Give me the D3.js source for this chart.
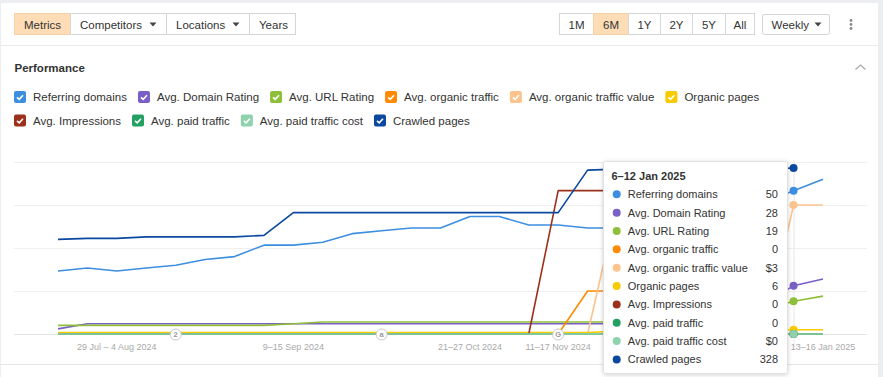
<!DOCTYPE html>
<html>
<head>
<meta charset="utf-8">
<script src="https://cdn.jsdelivr.net/npm/d3@7"></script>
<style>
  body { margin: 0; background: #eceef1; overflow: hidden; }
  svg { display: block; font-family: "Liberation Sans", Arial, sans-serif; }
</style>
</head>
<body>
<div id="chart-area"></div>
<script>
var width = 883;
var height = 377;

// weeks on the x axis
var weeks = [
  "15–21 Jul 2024", "22–28 Jul 2024", "29 Jul – 4 Aug 2024", "5–11 Aug 2024",
  "12–18 Aug 2024", "19–25 Aug 2024", "26 Aug – 1 Sep 2024", "2–8 Sep 2024",
  "9–15 Sep 2024", "16–22 Sep 2024", "23–29 Sep 2024", "30 Sep – 6 Oct 2024",
  "7–13 Oct 2024", "14–20 Oct 2024", "21–27 Oct 2024", "28 Oct – 3 Nov 2024",
  "4–10 Nov 2024", "11–17 Nov 2024", "18–24 Nov 2024", "25 Nov – 1 Dec 2024",
  "2–8 Dec 2024", "9–15 Dec 2024", "16–22 Dec 2024", "23–29 Dec 2024",
  "30 Dec – 5 Jan 2025", "6–12 Jan 2025", "13–16 Jan 2025"
];
var tickWeeks = ["29 Jul – 4 Aug 2024", "9–15 Sep 2024", "21–27 Oct 2024", "11–17 Nov 2024", "13–16 Jan 2025"];
var noteWeeks = ["12–18 Aug 2024", "30 Sep – 6 Oct 2024", "11–17 Nov 2024"];
var noteLabels = ["2", "a", "G"];
var hoverWeek = "6–12 Jan 2025";

// series
var seriesNames = [
  "Referring domains", "Avg. Domain Rating", "Avg. URL Rating", "Avg. organic traffic",
  "Avg. organic traffic value", "Organic pages", "Avg. Impressions", "Avg. paid traffic",
  "Avg. paid traffic cost", "Crawled pages"
];
var seriesColors = ["#3d8ee0", "#7a5fc6", "#8fbf3a", "#ff8a00", "#fdc38d", "#f8cb00",
                    "#9c301a", "#25a063", "#8ed2ae", "#0b489f"];
var seriesMax = [60, 100, 100, 4, 4, 240, 6, 1, 1, 340];
var seriesPrefix = ["", "", "", "", "$", "", "", "", "$", ""];

var referringDomains = [22, 23, 22, 23, 24, 26, 27, 31, 31, 32, 35, 36, 37, 37, 41, 41, 38, 38, 37, 37, 37, 38, 40, 43, 46, 50, 54];
var domainRating     = [3, 6, 6, 6, 6, 6, 6, 6, 6, 6, 6, 6, 6, 6, 6, 6, 6, 6, 6, 6, 6, 7, 8, 12, 18, 28, 32];
var urlRating        = [5, 5, 5, 5, 5, 5, 5, 5, 6, 7, 7, 7, 7, 7, 7, 7, 7, 7, 7, 7, 8, 9, 11, 12, 14, 19, 22];
var organicTraffic   = [0, 0, 0, 0, 0, 0, 0, 0, 0, 0, 0, 0, 0, 0, 0, 0, 0, 0, 1, 1, 1, 0, 0, 0, 0, 0, 0];
var trafficValue     = [0, 0, 0, 0, 0, 0, 0, 0, 0, 0, 0, 0, 0, 0, 0, 0, 0, 0, 0, 3, 3, 2, 1, 0, 0, 3, 3];
var organicPages     = [2, 2, 2, 2, 2, 2, 2, 2, 2, 2, 2, 2, 2, 2, 2, 2, 2, 2, 2, 4, 5, 6, 6, 6, 6, 6, 6];
var impressions      = [0, 0, 0, 0, 0, 0, 0, 0, 0, 0, 0, 0, 0, 0, 0, 0, 0, 5, 5, 5, 5, 3, 0, 0, 0, 0, 0];
var paidTraffic      = [0, 0, 0, 0, 0, 0, 0, 0, 0, 0, 0, 0, 0, 0, 0, 0, 0, 0, 0, 0, 0, 0, 0, 0, 0, 0, 0];
var paidTrafficCost  = [0, 0, 0, 0, 0, 0, 0, 0, 0, 0, 0, 0, 0, 0, 0, 0, 0, 0, 0, 0, 0, 0, 0, 0, 0, 0, 0];
var crawledPages     = [187, 189, 189, 192, 192, 192, 192, 195, 240, 240, 240, 240, 240, 240, 240, 240, 240, 240, 324, 326, 326, 326, 326, 326, 326, 328, null];

var allValues = [referringDomains, domainRating, urlRating, organicTraffic, trafficValue,
                 organicPages, impressions, paidTraffic, paidTrafficCost, crawledPages];

// toolbar buttons
var leftButtons = ["Metrics", "Competitors", "Locations", "Years"];
var rangeButtons = ["1M", "6M", "1Y", "2Y", "5Y", "All"];

var svg = d3.select("#chart-area")
  .append("svg")
  .attr("width", width)
  .attr("height", height);

var defs = svg.append("defs");
var shadow = defs.append("filter").attr("id", "shadow")
  .attr("x", "-10%").attr("y", "-10%").attr("width", "130%").attr("height", "130%");
shadow.append("feDropShadow")
  .attr("dx", 0).attr("dy", 1).attr("stdDeviation", 2)
  .attr("flood-color", "#000").attr("flood-opacity", 0.18);

// card
svg.append("rect")
  .attr("x", 1).attr("y", 3)
  .attr("width", 877).attr("height", height - 3)
  .attr("fill", "#fff");

svg.append("line")
  .attr("x1", 1).attr("x2", 878).attr("y1", 45.5).attr("y2", 45.5)
  .attr("stroke", "#e9e9e9");
svg.append("line")
  .attr("x1", 1).attr("x2", 878).attr("y1", 364.5).attr("y2", 364.5)
  .attr("stroke", "#e6e6e6");

// ---- toolbar
var leftX = [14, 70, 166, 249, 295];
var tb = svg.append("g");
leftButtons.forEach(function(name, i) {
  var x0 = leftX[i], x1 = leftX[i + 1];
  tb.append("rect")
    .attr("x", x0 + 0.5).attr("y", 13.5)
    .attr("width", x1 - x0).attr("height", 21)
    .attr("fill", i === 0 ? "#fedcb6" : "#fff")
    .attr("stroke", i === 0 ? "#f5cfa6" : "#d6d6d6");
  tb.append("text")
    .attr("x", x0 + 10).attr("y", 28.5)
    .attr("font-size", "11.5px").attr("fill", "#333")
    .text(name);
  if (i === 1 || i === 2) {
    var tx = x1 - 13;
    tb.append("path")
      .attr("d", "M" + (tx - 3.5) + ",22.5 L" + (tx + 3.5) + ",22.5 L" + tx + ",26.5 Z")
      .attr("fill", "#444");
  }
});

var rangeX = [559, 593, 628, 660, 692, 725, 754];
rangeButtons.forEach(function(name, i) {
  var x0 = rangeX[i], x1 = rangeX[i + 1];
  tb.append("rect")
    .attr("x", x0 + 0.5).attr("y", 13.5)
    .attr("width", x1 - x0).attr("height", 21)
    .attr("fill", name === "6M" ? "#fedcb6" : "#fff")
    .attr("stroke", name === "6M" ? "#f5cfa6" : "#d6d6d6");
  tb.append("text")
    .attr("x", (x0 + x1) / 2 + 0.5).attr("y", 28.5)
    .attr("text-anchor", "middle")
    .attr("font-size", "11.5px").attr("fill", "#333")
    .text(name);
});

tb.append("rect")
  .attr("x", 762.5).attr("y", 14.5)
  .attr("width", 67).attr("height", 20).attr("rx", 2)
  .attr("fill", "#fff").attr("stroke", "#d3d3d3");
tb.append("text")
  .attr("x", 771.5).attr("y", 28.5)
  .attr("font-size", "11.5px").attr("fill", "#333")
  .text("Weekly");
tb.append("path")
  .attr("d", "M814.5,22.5 L821.5,22.5 L818,26.5 Z")
  .attr("fill", "#444");
[20.5, 24.5, 28.5].forEach(function(cy) {
  tb.append("circle").attr("cx", 851).attr("cy", cy).attr("r", 1.4).attr("fill", "#888");
});

// ---- title
svg.append("text")
  .attr("x", 14.5).attr("y", 72)
  .attr("font-size", "11.5px").attr("font-weight", "bold").attr("fill", "#333")
  .text("Performance");
svg.append("path")
  .attr("d", "M855.5,69.5 L860.5,65 L865.5,69.5")
  .attr("fill", "none").attr("stroke", "#aaa").attr("stroke-width", 1.3);

// ---- legend
var legendRows = [[0, 1, 2, 3, 4, 5], [6, 7, 8, 9]];
var legendY = [97, 120.5];
legendRows.forEach(function(row, r) {
  var lx = 14;
  row.forEach(function(k) {
    var g = svg.append("g").attr("transform", "translate(" + lx + "," + (legendY[r] - 6) + ")");
    g.append("rect")
      .attr("width", 12).attr("height", 12).attr("rx", 2)
      .attr("fill", seriesColors[k]);
    g.append("path")
      .attr("d", "M3,6.3 L5.2,8.4 L9,4.2")
      .attr("fill", "none").attr("stroke", "#fff").attr("stroke-width", 1.6);
    var t = g.append("text")
      .attr("x", 19).attr("y", 10.3)
      .attr("font-size", "11.5px").attr("fill", "#333")
      .text(seriesNames[k]);
    lx += 19 + t.node().getComputedTextLength() + 11;
  });
});

// ---- chart
var x = d3.scalePoint()
  .domain(weeks)
  .range([58, 823]);

var yGrid = d3.scaleLinear()
  .domain([0, 4])
  .range([334, 162]);

svg.append("g").selectAll("line")
  .data(yGrid.ticks(4))
  .enter()
  .append("line")
  .attr("x1", 14).attr("x2", 867)
  .attr("y1", function(d) { return Math.round(yGrid(d)) + 0.5; })
  .attr("y2", function(d) { return Math.round(yGrid(d)) + 0.5; })
  .attr("stroke", function(d) { return d === 0 ? "#e4e4e4" : "#efefef"; });

// hover line
svg.append("line")
  .attr("x1", x(hoverWeek) + 0.5).attr("x2", x(hoverWeek) + 0.5)
  .attr("y1", 160).attr("y2", 347)
  .attr("stroke", "#e6e6e6");

// x labels
svg.append("g").selectAll("text")
  .data(tickWeeks)
  .enter()
  .append("text")
  .attr("x", function(d) { return x(d); })
  .attr("y", 349.5)
  .attr("text-anchor", "middle")
  .attr("font-size", "9px")
  .attr("fill", "#a9a9a9")
  .text(function(d) { return d; });

var yScales = seriesMax.map(function(m) {
  return d3.scaleLinear().domain([0, m]).range([334, 162]);
});

var lines = svg.append("g");
allValues.forEach(function(vals, k) {
  var line = d3.line()
    .defined(function(d) { return d != null; })
    .x(function(d, i) { return x(weeks[i]); })
    .y(function(d) { return yScales[k](d); });
  lines.append("path")
    .datum(vals)
    .attr("d", line)
    .attr("fill", "none")
    .attr("stroke", seriesColors[k])
    .attr("stroke-width", 1.6)
    .attr("stroke-linejoin", "round");
});

// annotation markers
var notes = svg.append("g");
noteWeeks.forEach(function(w, i) {
  notes.append("circle")
    .attr("cx", x(w)).attr("cy", 334.5).attr("r", 5.5)
    .attr("fill", "#fff").attr("stroke", "#c9c9c9");
  notes.append("text")
    .attr("x", x(w)).attr("y", 337.3)
    .attr("text-anchor", "middle")
    .attr("font-size", "7.5px").attr("font-weight", "bold").attr("fill", "#999")
    .text(noteLabels[i]);
});

// hover dots
var hi = weeks.indexOf(hoverWeek);
allValues.forEach(function(vals, k) {
  if (vals[hi] == null) return;
  svg.append("circle")
    .attr("cx", x(hoverWeek))
    .attr("cy", yScales[k](vals[hi]))
    .attr("r", 4)
    .attr("fill", seriesColors[k]);
});

// ---- tooltip
var tip = svg.append("g").attr("transform", "translate(603,161)");
tip.append("rect")
  .attr("x", 0.5).attr("y", 0.5)
  .attr("width", 184).attr("height", 212).attr("rx", 2)
  .attr("fill", "#fff").attr("stroke", "#e2e2e2")
  .attr("filter", "url(#shadow)");
tip.append("text")
  .attr("x", 8.5).attr("y", 18.5)
  .attr("font-size", "11px").attr("font-weight", "bold").attr("fill", "#333")
  .text(hoverWeek);
seriesNames.forEach(function(name, k) {
  var cy = 33.3 + k * 18.35;
  tip.append("circle")
    .attr("cx", 13.7).attr("cy", cy).attr("r", 4)
    .attr("fill", seriesColors[k]);
  tip.append("text")
    .attr("x", 24.8).attr("y", cy + 4)
    .attr("font-size", "11px").attr("fill", "#333")
    .text(name);
  tip.append("text")
    .attr("x", 175).attr("y", cy + 4)
    .attr("text-anchor", "end")
    .attr("font-size", "11px").attr("fill", "#333")
    .text(seriesPrefix[k] + allValues[k][hi]);
});
</script>
</body>
</html>
